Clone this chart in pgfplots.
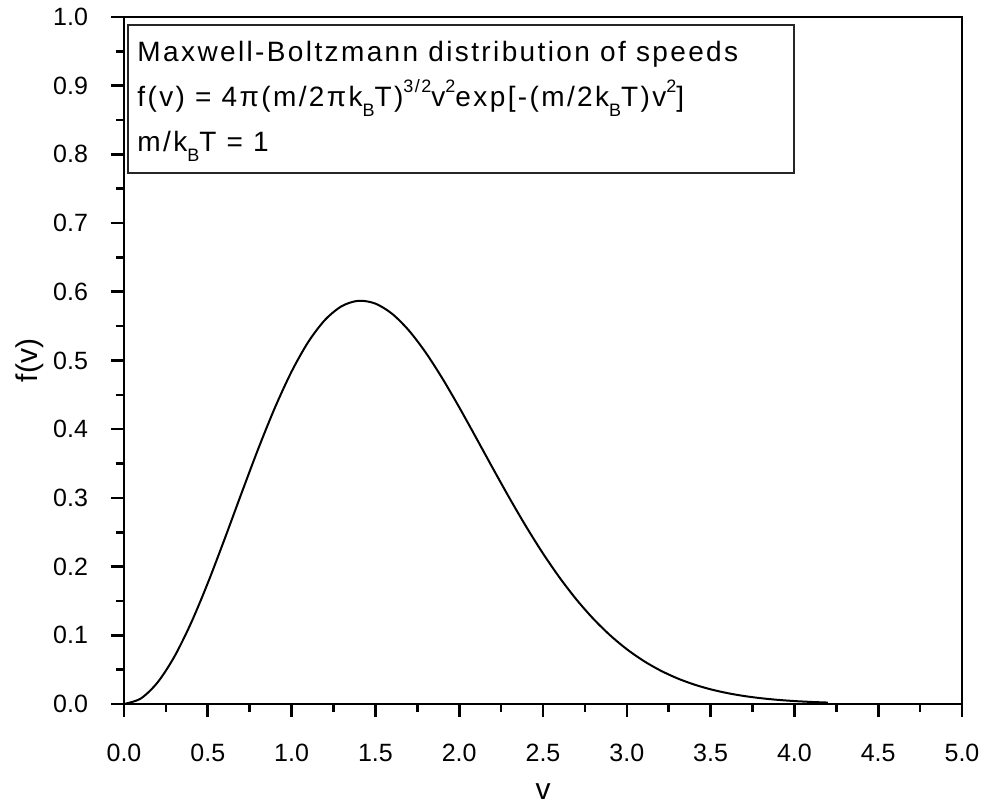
\documentclass[border=0pt]{standalone}
\usepackage{fontspec}
\setmainfont{Liberation Sans}
\newfontfamily\legfont[LetterSpace=8.5]{Liberation Sans}
\usepackage{pgfplots}
\pgfplotsset{compat=1.18}
\newcommand{\lsub}[1]{\raisebox{-5pt}{\fontsize{9}{9}\selectfont #1}}
\newcommand{\lsup}[1]{\raisebox{7pt}{\fontsize{9}{9}\selectfont #1}}
\begin{document}
\begin{tikzpicture}
\useasboundingbox (-62pt,-51.5pt) rectangle (430pt,352pt);
\begin{axis}[
  scale only axis,
  width=419pt, height=343.5pt,
  xmin=0, xmax=5, ymin=0, ymax=1,
  axis line style={line width=1.3pt},
  tick style={line width=1.3pt, black},
  tick align=outside,
  tick pos=left,
  major tick length=6.5pt,
  minor tick length=4pt,
  xtick={0,0.5,...,5},
  ytick={0,0.1,...,1},
  minor x tick num=1,
  minor y tick num=1,
  /pgf/number format/assume math mode=true,
  /pgf/number format/.cd, fixed, fixed zerofill, precision=1, /pgfplots/.cd,
  tick label style={font=\fontsize{12.5}{14}\selectfont},
  xticklabel style={yshift=-10pt},
  yticklabel style={xshift=-8pt},
  every axis x label/.style={at={(axis description cs:0.5,-0.128)},anchor=center,font=\fontsize{15}{17}\selectfont},
  every axis y label/.style={at={(axis description cs:-0.112,0.5)},rotate=90,anchor=center,font=\fontsize{15}{17}\selectfont},
  xlabel={v}, ylabel={f(v)},
  clip=false,
]
\addplot[black, line width=1pt, smooth] coordinates {
(0.0,0.000000)(0.1,0.007939)(0.2,0.031283)(0.3,0.068650)(0.4,0.117846)
(0.5,0.176033)(0.6,0.239922)(0.7,0.306009)(0.8,0.370806)(0.9,0.431058)
(1.0,0.483941)(1.1,0.527202)(1.2,0.559256)(1.3,0.579225)(1.4,0.586932)
(1.5,0.582829)(1.6,0.567914)(1.7,0.543604)(1.8,0.511598)(1.9,0.473745)
(2.0,0.431928)(2.1,0.387937)(2.2,0.343395)(2.3,0.299746)(2.4,0.257987)
(2.5,0.219104)(2.6,0.183640)(2.7,0.151935)(2.8,0.124113)(2.9,0.100123)
(3.0,0.079773)(3.1,0.062791)(3.2,0.048826)(3.3,0.037519)(3.4,0.028492)
(3.5,0.021376)(3.6,0.015862)(3.7,0.011622)(3.8,0.008434)(3.9,0.006044)
(4.0,0.004282)(4.1,0.003004)(4.2,0.002069)
};
\draw[line width=0.8pt, black!85] (axis cs:0.024,0.988) rectangle (axis cs:3.998,0.773);
\node[anchor=base west, inner sep=0pt, font=\legfont\fontsize{14}{16}\selectfont] at (axis cs:0.078,0.9345) {Maxwell-Boltzmann distribution of speeds};
\node[anchor=base west, inner sep=0pt, font=\legfont\fontsize{14}{16}\selectfont] at (axis cs:0.078,0.869) {f(v) = 4π(m/2πk\lsub{B}T)\lsup{3/2}v\lsup{2}exp[-(m/2k\lsub{B}T)v\lsup{2}]};
\node[anchor=base west, inner sep=0pt, font=\legfont\fontsize{14}{16}\selectfont] at (axis cs:0.078,0.8035) {m/k\lsub{B}T = 1};
\end{axis}
\end{tikzpicture}
\end{document}
